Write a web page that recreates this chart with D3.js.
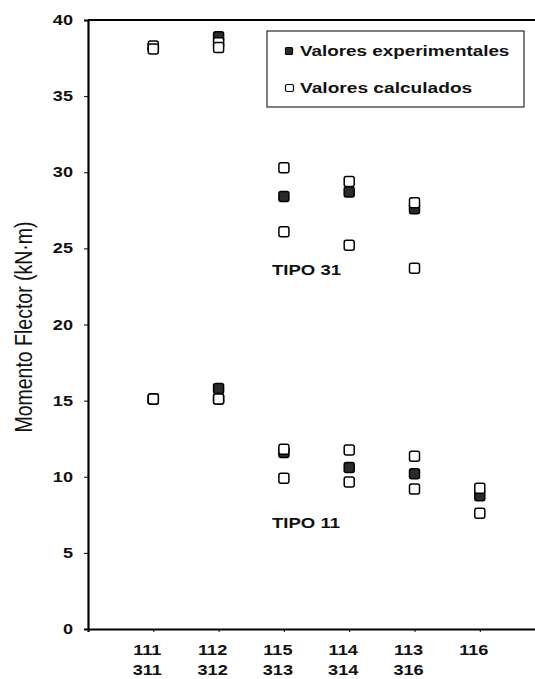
<!DOCTYPE html>
<html><head><meta charset="utf-8">
<script src="https://cdn.jsdelivr.net/npm/d3@7"></script>
<style>body{margin:0;background:#fff}svg{display:block}text{font-family:"Liberation Sans",Arial,sans-serif}</style>
</head><body><svg id="c" width="535" height="679"></svg>
<script>
const labelsTop = ["111","112","115","114","113","116"];
const labelsBottom = ["311","312","313","314","316",""];
const yTicks = [0,5,10,15,20,25,30,35,40];
const tipo31Exp = [38.2, 38.9, 28.4, 28.7, 27.6, null];
const tipo31CalcA = [38.3, 38.5, 30.3, 29.4, 28.0, null];
const tipo31CalcB = [38.1, 38.2, 26.1, 25.2, 23.7, null];
const tipo11Exp = [15.1, 15.8, 11.6, 10.6, 10.2, 8.75];
const tipo11CalcA = [15.1, 15.1, 11.8, 11.75, 11.35, 9.25];
const tipo11CalcB = [15.1, 15.1, 9.9, 9.65, 9.2, 7.6];

(function(){
const svg = d3.select("#c");
const mLeft = 88, mTop = 20, mBottom = 629;
const SX = 1.27;
const x = d3.scaleLinear().domain([0, 7]).range([mLeft, mLeft + 7*65.3]);
const y = d3.scaleLinear().domain([0, 40]).range([mBottom, mTop]);

function stxt(g, px, py, str, o) {
  o = o || {};
  return g.append("text")
    .attr("transform", `translate(${px},${py}) scale(${o.sx || SX},1)`)
    .attr("text-anchor", o.anchor || "start")
    .attr("font-size", o.size || 14.5)
    .attr("font-weight", o.weight || "bold")
    .attr("fill", "#111").text(str);
}

const yAxis = d3.axisLeft(y).tickValues(yTicks).tickSize(4).tickFormat("");
const gy = svg.append("g").attr("transform", `translate(${mLeft},0)`).call(yAxis);
gy.select(".domain").attr("stroke-width", 2.2);
yTicks.forEach(t => stxt(svg, 73, y(t) + 5, String(t), {anchor: "end", size: 14.5, sx: 1.25}));

const xAxis = d3.axisBottom(x).tickValues([1,2,3,4,5,6]).tickSize(3).tickFormat("");
const gx = svg.append("g").attr("transform", `translate(0,${mBottom})`).call(xAxis);
gx.select(".domain").attr("stroke-width", 2.2);

svg.append("line").attr("x1", mLeft).attr("x2", 535).attr("y1", y(40)).attr("y2", y(40))
  .attr("stroke", "#000").attr("stroke-width", 2.2);

labelsTop.forEach((t, i) => stxt(svg, x(i+1) - 6, 655, t, {anchor: "middle", sx: 1.25}));
labelsBottom.forEach((t, i) => stxt(svg, x(i+1) - 6, 675, t, {anchor: "middle", sx: 1.25}));

svg.append("text").attr("transform", "translate(32,327) scale(1.25,1) rotate(-90)").attr("text-anchor", "middle")
  .attr("font-size", 19.5).attr("fill", "#111").text("Momento Flector (kN·m)");

const S = 10;
function draw(vals, filled) {
  svg.append("g").selectAll("rect").data(vals.map((v, i) => ({v, i})).filter(d => d.v != null))
    .join("rect")
    .attr("x", d => x(d.i + 1) - S/2).attr("y", d => y(d.v) - S/2)
    .attr("width", S).attr("height", S).attr("rx", 2)
    .attr("fill", filled ? "#2b2b2b" : "#fff").attr("stroke", "#000").attr("stroke-width", 1.5);
}
draw(tipo31Exp, true); draw(tipo11Exp, true);
draw(tipo31CalcA, false); draw(tipo31CalcB, false);
draw(tipo11CalcA, false); draw(tipo11CalcB, false);

stxt(svg, 272, 275, "TIPO 31", {size: 14.5, sx: 1.28});
stxt(svg, 272, 528, "TIPO 11", {size: 14.5, sx: 1.28});

const lg = svg.append("g");
lg.append("rect").attr("x", 267).attr("y", 31).attr("width", 257).attr("height", 76)
  .attr("fill", "#fff").attr("stroke", "#000").attr("stroke-width", 1);
lg.append("rect").attr("x", 285.5).attr("y", 47.5).attr("width", 7).attr("height", 7).attr("rx", 1)
  .attr("fill", "#2b2b2b").attr("stroke", "#000").attr("stroke-width", 1.2);
stxt(lg, 300, 56, "Valores experimentales", {size: 14.5, sx: 1.3});
lg.append("rect").attr("x", 285.5).attr("y", 84.5).attr("width", 8).attr("height", 7).attr("rx", 1.5)
  .attr("fill", "#fff").attr("stroke", "#000").attr("stroke-width", 1.2);
stxt(lg, 300, 93, "Valores calculados", {size: 14.5, sx: 1.32});
})();
</script></body></html>
